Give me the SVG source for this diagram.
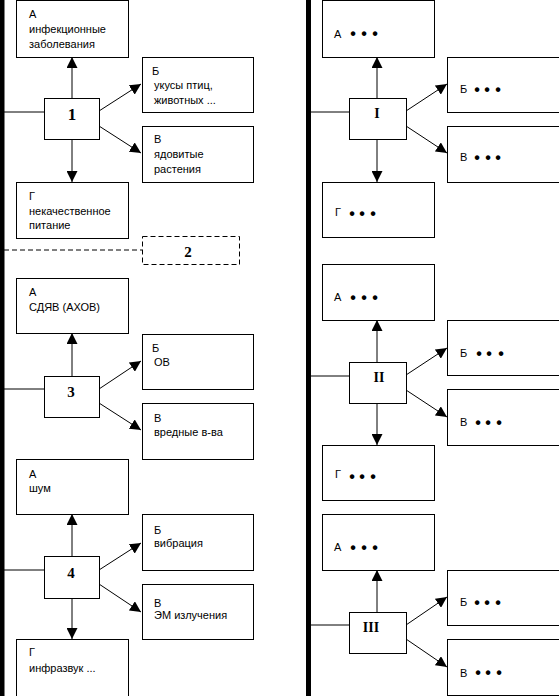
<svg xmlns="http://www.w3.org/2000/svg" width="559" height="696" viewBox="0 0 559 696">
<style>
.box{fill:#fff;stroke:#000;stroke-width:1}
.dash{fill:#fff;stroke:#000;stroke-width:1;stroke-dasharray:5 3}
.t{font-family:"Liberation Sans",Arial,sans-serif;font-size:11px;fill:#000}
.n{font-family:"Liberation Serif","Times New Roman",serif;font-size:15px;font-weight:bold;fill:#000;text-anchor:middle}
.d{font-family:"Liberation Sans",Arial,sans-serif;font-size:16px;font-weight:bold;fill:#000;text-anchor:middle}
.c{stroke:#000;stroke-width:1;fill:none}
.a{stroke:#000;stroke-width:1;fill:none;marker-end:url(#ah)}
</style>
<defs>
<marker id="ah" viewBox="0 0 11 11" refX="11" refY="5.5" markerWidth="11" markerHeight="11" markerUnits="userSpaceOnUse" orient="auto">
<path d="M0,0 L11,5.5 L0,11 z" fill="#000"/>
</marker>
</defs>
<g id="bars">
<rect x="0" y="0" width="4.5" height="696" fill="#000"/>
<rect x="306" y="0" width="5" height="696" fill="#000"/>
</g>
<g id="connectors">
<line class="c" x1="4" y1="112" x2="44" y2="112"/>
<line class="a" x1="72" y1="98" x2="72" y2="57"/>
<line class="a" x1="72" y1="139" x2="72" y2="182"/>
<line class="a" x1="99" y1="111" x2="141" y2="84"/>
<line class="a" x1="99" y1="126" x2="141" y2="153"/>
<line class="c" x1="4" y1="250" x2="142" y2="250" stroke-dasharray="5 3"/>
<line class="c" x1="4" y1="389" x2="44" y2="389"/>
<line class="a" x1="72" y1="376" x2="72" y2="333"/>
<line class="a" x1="99" y1="389" x2="141" y2="361"/>
<line class="a" x1="99" y1="403" x2="141" y2="430"/>
<line class="c" x1="4" y1="570" x2="44" y2="570"/>
<line class="a" x1="72" y1="556" x2="72" y2="514"/>
<line class="a" x1="72" y1="598" x2="72" y2="639"/>
<line class="a" x1="99" y1="570" x2="141" y2="543"/>
<line class="a" x1="99" y1="584" x2="141" y2="612"/>
<line class="c" x1="311" y1="112" x2="349" y2="112"/>
<line class="a" x1="377" y1="98" x2="377" y2="57"/>
<line class="a" x1="377" y1="139" x2="377" y2="182"/>
<line class="a" x1="406" y1="111" x2="447" y2="84"/>
<line class="a" x1="406" y1="126" x2="447" y2="153"/>
<line class="c" x1="311" y1="376" x2="349" y2="376"/>
<line class="a" x1="377" y1="362" x2="377" y2="320"/>
<line class="a" x1="377" y1="403" x2="377" y2="445"/>
<line class="a" x1="406" y1="375" x2="447" y2="348"/>
<line class="a" x1="406" y1="390" x2="447" y2="417"/>
<line class="c" x1="311" y1="625" x2="349" y2="625"/>
<line class="a" x1="377" y1="612" x2="377" y2="570"/>
<line class="a" x1="406" y1="625" x2="447" y2="597"/>
<line class="a" x1="406" y1="639" x2="447" y2="667"/>
</g>
<g id="n1"><rect class="box" x="44.5" y="98.5" width="55" height="41"/><text class="n" x="72" y="120" style="font-size:17px">1</text></g>
<g id="n1a"><rect class="box" x="16.5" y="0.5" width="112" height="57"/><text class="t" x="29" y="18">А</text><text class="t" x="29" y="33">инфекционные</text><text class="t" x="29" y="48">заболевания</text></g>
<g id="n1b"><rect class="box" x="142.5" y="57.5" width="111" height="55"/><text class="t" x="152" y="75">Б</text><text class="t" x="154" y="89">укусы птиц,</text><text class="t" x="154" y="104">животных ...</text></g>
<g id="n1v"><rect class="box" x="142.5" y="126.5" width="111" height="56"/><text class="t" x="154" y="143">В</text><text class="t" x="154" y="158">ядовитые</text><text class="t" x="154" y="173">растения</text></g>
<g id="n1g"><rect class="box" x="16.5" y="182.5" width="112" height="56"/><text class="t" x="29" y="200">Г</text><text class="t" x="29" y="215">некачественное</text><text class="t" x="29" y="229">питание</text></g>
<g id="n2"><rect class="dash" x="142.5" y="236.5" width="97" height="28"/><text class="n" x="188" y="257">2</text></g>
<g id="n3"><rect class="box" x="44.5" y="376.5" width="55" height="41"/><text class="n" x="71" y="397">3</text></g>
<g id="n3a"><rect class="box" x="16.5" y="278.5" width="112" height="55"/><text class="t" x="29" y="296">А</text><text class="t" x="29" y="311">СДЯВ (АХОВ)</text></g>
<g id="n3b"><rect class="box" x="142.5" y="334.5" width="111" height="55"/><text class="t" x="152" y="352">Б</text><text class="t" x="154" y="366">ОВ</text></g>
<g id="n3v"><rect class="box" x="142.5" y="403.5" width="111" height="56"/><text class="t" x="154" y="422">В</text><text class="t" x="154" y="436">вредные в-ва</text></g>
<g id="n4"><rect class="box" x="44.5" y="556.5" width="55" height="42"/><text class="n" x="71" y="578">4</text></g>
<g id="n4a"><rect class="box" x="16.5" y="459.5" width="112" height="55"/><text class="t" x="29" y="478">А</text><text class="t" x="29" y="492"> шум</text></g>
<g id="n4b"><rect class="box" x="142.5" y="514.5" width="111" height="56"/><text class="t" x="154" y="534">Б</text><text class="t" x="154" y="547">вибрация</text></g>
<g id="n4v"><rect class="box" x="142.5" y="584.5" width="111" height="55"/><text class="t" x="154" y="607">В</text><text class="t" x="154" y="619">ЭМ излучения</text></g>
<g id="n4g"><rect class="box" x="16.5" y="639.5" width="112" height="57"/><text class="t" x="29" y="656">Г</text><text class="t" x="29" y="672">инфразвук ...</text></g>
<g id="nI"><rect class="box" x="349.5" y="98.5" width="57" height="41"/><text class="n" x="377" y="118" style="font-size:14px">I</text></g>
<g id="nIa"><rect class="box" x="322.5" y="0.5" width="112" height="57"/><text class="t" x="334" y="38">А</text><text class="d" x="353 364 375" y="39">•••</text></g>
<g id="nIb"><rect class="box" x="447.5" y="57.5" width="112" height="55"/><text class="t" x="460" y="93">Б</text><text class="d" x="477 487 498" y="95">•••</text></g>
<g id="nIv"><rect class="box" x="447.5" y="126.5" width="112" height="56"/><text class="t" x="460" y="161">В</text><text class="d" x="477 488 498" y="163">•••</text></g>
<g id="nIg"><rect class="box" x="322.5" y="182.5" width="112" height="55"/><text class="t" x="335" y="216">Г</text><text class="d" x="352 362 373" y="219">•••</text></g>
<g id="nII"><rect class="box" x="349.5" y="362.5" width="57" height="41"/><text class="n" x="379" y="382" style="font-size:14px">II</text></g>
<g id="nIIa"><rect class="box" x="322.5" y="264.5" width="112" height="56"/><text class="t" x="334" y="301">А</text><text class="d" x="353 364 375" y="303">•••</text></g>
<g id="nIIb"><rect class="box" x="447.5" y="320.5" width="112" height="55"/><text class="t" x="460" y="357">Б</text><text class="d" x="479 489 501" y="359">•••</text></g>
<g id="nIIv"><rect class="box" x="447.5" y="389.5" width="112" height="56"/><text class="t" x="460" y="426">В</text><text class="d" x="478 488 499" y="428">•••</text></g>
<g id="nIIg"><rect class="box" x="322.5" y="445.5" width="112" height="55"/><text class="t" x="335" y="478">Г</text><text class="d" x="352 362 373" y="482">•••</text></g>
<g id="nIII"><rect class="box" x="349.5" y="612.5" width="57" height="41"/><text class="n" x="371" y="632" style="font-size:14px">III</text></g>
<g id="nIIIa"><rect class="box" x="322.5" y="514.5" width="112" height="56"/><text class="t" x="334" y="551">А</text><text class="d" x="353 364 375" y="553">•••</text></g>
<g id="nIIIb"><rect class="box" x="447.5" y="570.5" width="112" height="55"/><text class="t" x="460" y="606">Б</text><text class="d" x="477 487 498" y="608">•••</text></g>
<g id="nIIIv"><rect class="box" x="447.5" y="639.5" width="112" height="56"/><text class="t" x="460" y="677">В</text><text class="d" x="478 488 499" y="678">•••</text></g>
</svg>
